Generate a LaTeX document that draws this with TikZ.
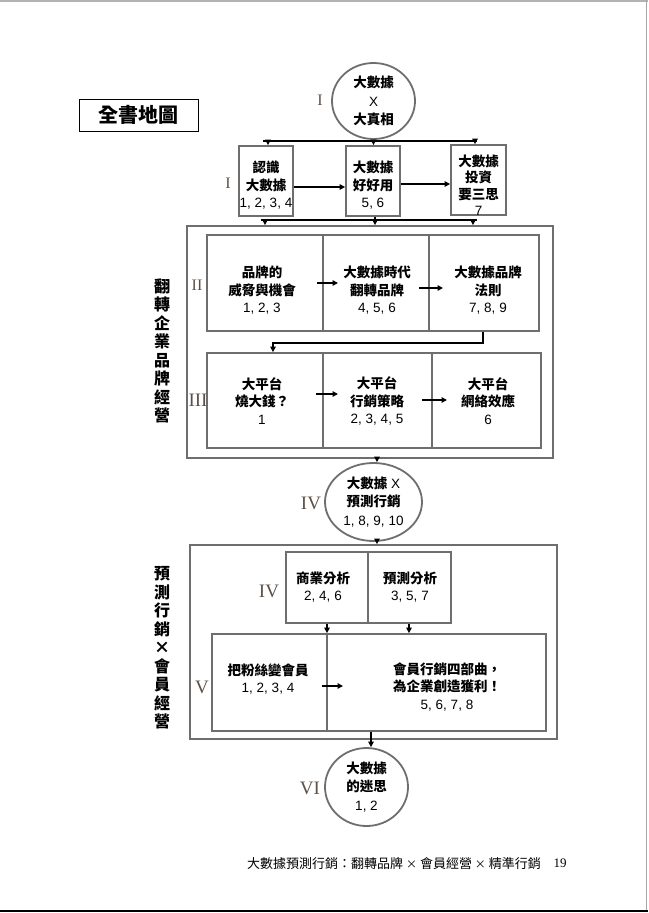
\documentclass[tikz,border=0pt]{standalone}
\usepackage{fontspec}
\setmainfont{Liberation Sans}
\newfontfamily\cj{Noto Sans CJK TC}
\newfontfamily\rom{Liberation Serif}
\usetikzlibrary{shapes.geometric,arrows.meta}
\definecolor{bordergray}{HTML}{6E6E6E}
\definecolor{romcol}{HTML}{5E5045}
\newcommand\cb[1]{{\cj\bfseries #1}}
\begin{document}
\begin{tikzpicture}[x=1pt,y=-1pt,
  box/.style={draw=bordergray,line width=1.8pt,inner sep=0pt},
  oval/.style={ellipse,draw=bordergray,line width=1.8pt,inner sep=0pt,align=center,font=\fontsize{13.5}{18.5}\selectfont},
  txt/.style={align=center,inner sep=0pt,font=\fontsize{13.5}{17.5}\selectfont},
  arr/.style={line width=1.6pt,-{Triangle[length=5.5pt,width=5.5pt]}},
  ln/.style={line width=1.6pt},
  romsmall/.style={text=romcol,font=\rom\fontsize{16}{16}\selectfont,inner sep=0pt},
  romlarge/.style={text=romcol,font=\rom\fontsize{19}{19}\selectfont,inner sep=0pt},
  vlab/.style={align=center,inner sep=0pt,font=\cj\bfseries\fontsize{16}{18.5}\selectfont}]
\useasboundingbox (0,0) rectangle (648,913);
% page edges
\draw[line width=1.5pt,gray!60] (0,0.75) -- (648,0.75);
\draw[line width=1.5pt,gray!70] (646.5,0) -- (646.5,911);
\draw[line width=1.5pt,black] (0,911) -- (648,911);

% title
\node[draw=black,line width=1pt,minimum width=119,minimum height=32,inner sep=0pt,font=\cj\bfseries\fontsize{20}{20}\selectfont] (title) at (138.5,115) {全書地圖};

% top circle
\node[oval,minimum width=83,minimum height=76] (c1) at (373.5,101) {\cb{大數據}\\X\\\cb{大真相}};
\node[romsmall] (n1) at (320,100) {I};

% row I boxes
\node[box,minimum width=54,minimum height=70] (b1) at (266,181) {};
\node[box,minimum width=54,minimum height=70] (b2) at (373,181) {};
\node[box,minimum width=55,minimum height=70] (b3) at (478.5,180) {};
\node[txt] (t1) at (266,185.5) {\cb{認識}\\\cb{大數據}\\1, 2, 3, 4};
\node[txt] (t2) at (373,185.5) {\cb{大數據}\\\cb{好好用}\\5, 6};
\node[txt,font=\fontsize{13.5}{16.5}\selectfont] (t3) at (478.5,185) {\cb{大數據}\\\cb{投資}\\\cb{要三思}\\7};
\node[romsmall] (n2) at (228,183) {I};

\coordinate (tl) at (263,141);
\coordinate (tr) at (477,141);
\coordinate (tm) at (373.5,141);
\draw[ln] (c1.south) -- (tm);
\draw[ln] (tl) -- (tr);
\coordinate (ta1) at (268,141);
\coordinate (ta3) at (475,141);
\draw[arr] (ta1) -- (ta1 |- b1.north);
\draw[arr] (tm) -- (tm |- b2.north);
\draw[arr] (ta3) -- (ta3 |- b3.north);
\draw[arr] (b1.east |- 0,187) -- (b2.west |- 0,187);
\draw[arr] (b2.east |- 0,184) -- (b3.west |- 0,184);

% outer box 1
\node[box,minimum width=366,minimum height=232] (o1) at (370,342) {};
\coordinate (bl) at (261,220);
\coordinate (br) at (477,220);
\draw[ln] (bl) -- (br);
\coordinate (ba1) at (265,220);
\coordinate (ba3) at (473,220);
\draw[arr] (ba1) -- (ba1 |- o1.north);
\draw[arr] (b2.south -| 375,0) -- (375,0 |- o1.north);
\draw[arr] (ba3) -- (ba3 |- o1.north);

% row II
\node[box,minimum width=116,minimum height=96] (r21) at (265,283) {};
\node[box,minimum width=106,minimum height=96] (r22) at (376,283) {};
\node[box,minimum width=110,minimum height=96] (r23) at (484,283) {};
\node[txt] (t21) at (262,290.5) {\cb{品牌的}\\\cb{威脅與機會}\\1, 2, 3};
\node[txt] (t22) at (377,290.5) {\cb{大數據時代}\\\cb{翻轉品牌}\\4, 5, 6};
\node[txt] (t23) at (488,290.5) {\cb{大數據品牌}\\\cb{法則}\\7, 8, 9};
\coordinate (a21s) at (317,283);
\coordinate (a21e) at (338,283);
\coordinate (a22s) at (419,288);
\coordinate (a22e) at (443,288);
\draw[arr] (a21s) -- (a21e);
\draw[arr] (a22s) -- (a22e);
\node[romsmall] (n3) at (197,285) {II};

% row III
\node[box,minimum width=116,minimum height=95] (r31) at (265,400.5) {};
\node[box,minimum width=109,minimum height=95] (r32) at (377.5,400.5) {};
\node[box,minimum width=109,minimum height=95] (r33) at (486.5,400.5) {};
\node[txt] (t31) at (262,401) {\cb{大平台}\\\cb{燒大錢？}\\1};
\node[txt] (t32) at (377,401) {\cb{大平台}\\\cb{行銷策略}\\2, 3, 4, 5};
\node[txt] (t33) at (488,401) {\cb{大平台}\\\cb{網絡效應}\\6};
\coordinate (a31s) at (316,394);
\coordinate (a31e) at (338,394);
\coordinate (a32s) at (422,400);
\coordinate (a32e) at (447,400);
\draw[arr] (a31s) -- (a31e);
\draw[arr] (a32s) -- (a32e);
\node[romlarge] (n4) at (198,400) {III};

% row II -> row III
\draw[arr] (r23.south -| 483,0) -- (483,343) -- (273,343) -- (273,0 |- r31.north);

% vertical label 1
\node[vlab] (v1) at (162,351) {翻\\轉\\企\\業\\品\\牌\\經\\營};

% ellipse IV
\node[oval,minimum width=97,minimum height=78] (e4) at (373.5,502) {\cb{大數據} X\\\cb{預測行銷}\\1, 8, 9, 10};
\node[romlarge] (n5) at (311,503) {IV};
\draw[arr] (o1.south -| 377,0) -- (377,0 |- e4.north);

% outer box 2
\node[box,minimum width=367,minimum height=194] (o2) at (373.5,642) {};
\draw[arr] (e4.south -| 377,0) -- (377,0 |- o2.north);

% row IV boxes
\node[box,minimum width=82,minimum height=71] (r41) at (327,587.5) {};
\node[box,minimum width=83,minimum height=71] (r42) at (409.5,587.5) {};
\node[txt] (t41) at (323,587) {\cb{商業分析}\\2, 4, 6};
\node[txt] (t42) at (410,587) {\cb{預測分析}\\3, 5, 7};
\node[romlarge] (n6) at (269,591) {IV};

% row V box
\node[box,minimum width=334,minimum height=97] (r5) at (379,682.5) {};
\draw[bordergray,line width=1.8pt] (327,0 |- r5.north) -- (327,0 |- r5.south);
\draw[arr] (r41.south -| 327,0) -- (327,0 |- r5.north);
\draw[arr] (r42.south -| 409,0) -- (409,0 |- r5.north);
\node[txt] (t51) at (268,679) {\cb{把粉絲變會員}\\1, 2, 3, 4};
\node[txt] (t52) at (447,687) {\cb{會員行銷四部曲，}\\\cb{為企業創造獲利！}\\5, 6, 7, 8};
\coordinate (a5s) at (322,686);
\coordinate (a5e) at (343,686);
\draw[arr] (a5s) -- (a5e);
\node[romlarge] (n7) at (202,687) {V};

% vertical label 2
\node[vlab] (v2) at (162,648) {預\\測\\行\\銷\\×\\會\\員\\經\\營};

% ellipse VI
\node[oval,minimum width=83,minimum height=78] (e6) at (366.5,787) {\cb{大數據}\\\cb{的迷思}\\1, 2};
\node[romlarge] (n8) at (310,788) {VI};
\draw[arr] (r5.south -| 371,0) -- (371,0 |- e6.north);

% footer
\node[anchor=west,inner sep=0pt,font=\cj\fontsize{13}{13}\selectfont] (foot) at (247,864) {大數據預測行銷：翻轉品牌 {\fontsize{11}{11}\selectfont ×} 會員經營 {\fontsize{11}{11}\selectfont ×} 精準行銷};
\node[inner sep=0pt,font=\rom\fontsize{13}{13}\selectfont] (page) at (560,863) {19};
\end{tikzpicture}
\end{document}
